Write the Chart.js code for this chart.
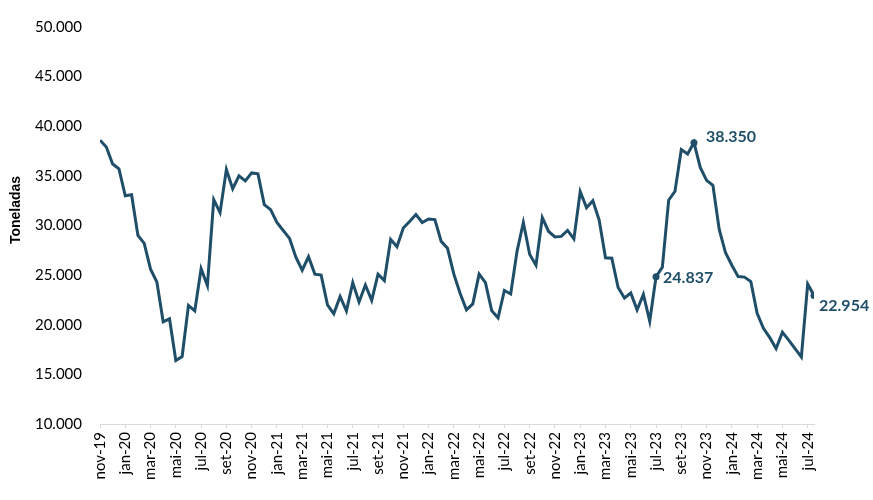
<!DOCTYPE html>
<html>
<head>
<meta charset="utf-8">
<script src="https://cdn.jsdelivr.net/npm/chart.js@4.4.1/dist/chart.umd.min.js"></script>
<style>
  body { margin: 0; background: #fff; }
</style>
</head>
<body>
<canvas id="chart" width="873" height="500"></canvas>
<script>
// Data (semi-monthly, nov-19 .. jul-24)
const tickLabels = [
  "nov-19", "jan-20", "mar-20", "mai-20", "jul-20", "set-20", "nov-20",
  "jan-21", "mar-21", "mai-21", "jul-21", "set-21", "nov-21",
  "jan-22", "mar-22", "mai-22", "jul-22", "set-22", "nov-22",
  "jan-23", "mar-23", "mai-23", "jul-23", "set-23", "nov-23",
  "jan-24", "mar-24", "mai-24", "jul-24",
];

const tonnes = [
  38600, 37900, 36200, 35700, 33000, 33100, 29000, 28200, 25600, 24300,
  20300, 20600, 16400, 16800, 21950, 21400, 25650, 23950, 32600, 31300,
  35650, 33700, 35000, 34500, 35300, 35200, 32100, 31600, 30300, 29500,
  28700, 26800, 25500, 26850, 25100, 25000, 22000, 21100, 22850, 21400,
  24250, 22300, 24000, 22450, 25100, 24450, 28600, 27850, 29750, 30400,
  31100, 30300, 30650, 30600, 28400, 27700, 25100, 23150, 21500, 22100,
  25100, 24250, 21400, 20700, 23450, 23100, 27400, 30300, 27100, 26000,
  30800, 29400, 28850, 28900, 29500, 28650, 33400, 31800, 32500, 30550,
  26750, 26700, 23750, 22700, 23200, 21500, 23050, 20350, 24837, 25800,
  32550, 33450, 37650, 37200, 38350, 35850, 34550, 34050, 29600, 27250,
  26000, 24850, 24800, 24350, 21150, 19650, 18700, 17600, 19250, 18450,
  17600, 16750, 24100, 22954,
];

// points that get a marker + value label
const labeledPoints = [
  { index: 88, dx: 7, dy: 1 },
  { index: 94, dx: 12, dy: -6 },
  { index: 113, dx: 5, dy: 10 },
];

const yTitle = "Toneladas";
const lineColor = "#1f4e69";
const POINTS_PER_TICK = 4;

function fmt(v) {
  return String(Math.round(v)).replace(/\B(?=(\d{3})+(?!\d))/g, ".");
}

const valueLabels = {
  id: "valueLabels",
  afterDatasetsDraw(chart) {
    const ctx = chart.ctx;
    const meta = chart.getDatasetMeta(0);
    ctx.save();
    ctx.font = "bold 16px Lato";
    ctx.fillStyle = lineColor;
    ctx.textAlign = "left";
    ctx.textBaseline = "middle";
    labeledPoints.forEach((p) => {
      const pt = meta.data[p.index];
      ctx.fillText(fmt(tonnes[p.index]), pt.x + p.dx, pt.y + p.dy);
    });

    // y axis title, sits a bit above the plot's middle like the original
    ctx.fillStyle = "#000";
    ctx.font = "bold 14px 'Liberation Sans'";
    ctx.textAlign = "center";
    ctx.translate(16, 210);
    ctx.rotate(-Math.PI / 2);
    ctx.fillText(yTitle, 0, 0);
    ctx.restore();
  },
};

const isLabeled = (i) => labeledPoints.some((p) => p.index === i);

new Chart(document.getElementById("chart").getContext("2d"), {
  type: "line",
  data: {
    datasets: [
      {
        data: tonnes.map((v, i) => ({ x: i, y: v })),
        borderColor: lineColor,
        backgroundColor: lineColor,
        borderWidth: 3,
        tension: 0,
        pointRadius: (c) => (isLabeled(c.dataIndex) ? 3.5 : 0),
        pointHoverRadius: 0,
        pointBackgroundColor: lineColor,
        pointBorderWidth: 0,
      },
    ],
  },
  options: {
    responsive: false,
    animation: false,
    layout: { padding: { top: 20, right: 59, left: 0, bottom: 0 } },
    plugins: {
      legend: { display: false },
      tooltip: { enabled: false },
    },
    scales: {
      x: {
        type: "linear",
        min: 0,
        max: tonnes.length - 1,
        afterBuildTicks: (scale) => {
          scale.ticks = tickLabels.map((_, k) => ({ value: k * POINTS_PER_TICK }));
        },
        afterFit: (scale) => { scale.height = 76; },
        ticks: {
          autoSkip: false,
          minRotation: 90,
          maxRotation: 90,
          padding: 4,
          color: "#000",
          font: { family: "Lato", size: 15 },
          callback: (v) => tickLabels[v / POINTS_PER_TICK],
        },
        grid: {
          drawOnChartArea: false,
          drawTicks: true,
          tickLength: 4,
          color: "#d9d9d9",
        },
        border: { color: "#d9d9d9", width: 1 },
      },
      y: {
        min: 10000,
        max: 50000,
        afterFit: (scale) => { scale.width = 100; },
        ticks: {
          stepSize: 5000,
          padding: 18,
          color: "#000",
          font: { family: "Lato", size: 15 },
          callback: (v) => fmt(v),
        },
        grid: { display: false, drawTicks: false },
        border: { display: false },
      },
    },
  },
  plugins: [valueLabels],
});
</script>
</body>
</html>
